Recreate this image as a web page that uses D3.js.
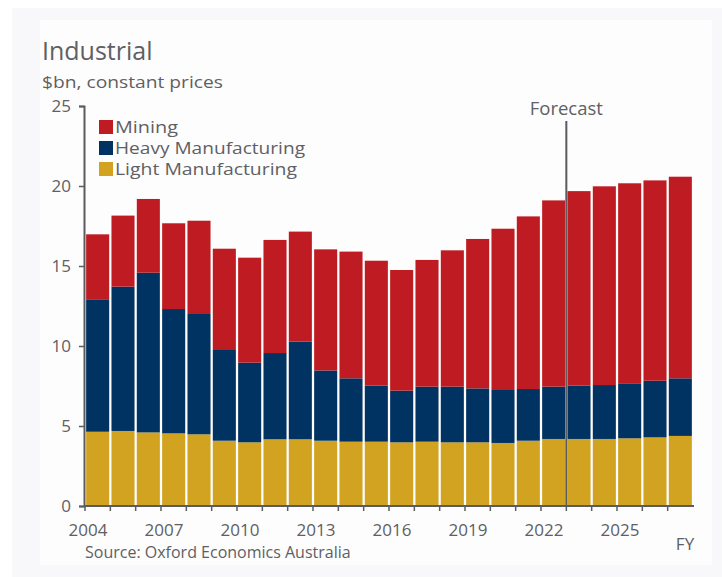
<html>

<head>
    <meta charset="UTF-8">
    <script src="https://d3js.org/d3.v7.min.js"></script>
    <style>
        body { margin: 0; background: #fff; }
        text { font-family: "Open Sans", "Noto Sans", sans-serif; fill: #5f6063; }
    </style>
</head>

<body>
</body>
<script>
    // data
    var years = d3.range(2004, 2028);
    var light = [4.64, 4.69, 4.60, 4.54, 4.48, 4.08, 3.98, 4.17, 4.17, 4.08, 4.02, 4.02,
        3.98, 4.02, 3.98, 3.98, 3.94, 4.08, 4.19, 4.19, 4.19, 4.23, 4.29, 4.38];
    var heavy = [8.28, 9.02, 9.98, 7.77, 7.52, 5.67, 4.98, 5.39, 6.10, 4.39, 3.96, 3.50,
        3.23, 3.44, 3.48, 3.37, 3.31, 3.23, 3.27, 3.33, 3.37, 3.44, 3.54, 3.60];
    var mining = [4.06, 4.44, 4.61, 5.36, 5.83, 6.33, 6.56, 7.07, 6.88, 7.57, 7.92, 7.81,
        7.54, 7.92, 8.52, 9.34, 10.08, 10.79, 11.64, 12.16, 12.42, 12.50, 12.52, 12.60];
    var seriesNames = ["Light Manufacturing", "Heavy Manufacturing", "Mining"];
    var yTicks = [0, 5, 10, 15, 20, 25];
    var xLabelYears = [2004, 2007, 2010, 2013, 2016, 2019, 2022, 2025];
    var forecastStart = 2023;

    var colors = { "Mining": "#be1b22", "Heavy Manufacturing": "#003262", "Light Manufacturing": "#d1a321" };

    var W = 722, H = 577;
    var margin = { top: 106, right: 29, bottom: 71, left: 84 },
        width = W - margin.left - margin.right,
        height = H - margin.top - margin.bottom;

    var svg = d3.select("body").append("svg")
        .attr("width", W).attr("height", H);

    // faint background
    svg.append("rect").attr("x", 12).attr("y", 8).attr("width", W - 12).attr("height", H - 8)
        .attr("fill", "#f8f8fa");
    svg.append("rect").attr("x", 40).attr("y", 20).attr("width", 672).attr("height", 545)
        .attr("fill", "#fdfdfd");

    var g = svg.append("g")
        .attr("transform", "translate(" + margin.left + "," + margin.top + ")");

    var table = years.map(function (y, i) {
        return { year: y, "Light Manufacturing": light[i], "Heavy Manufacturing": heavy[i], "Mining": mining[i] };
    });
    var stacked = d3.stack().keys(seriesNames)(table);

    var x = d3.scaleBand().domain(years).range([1, width]).paddingInner(0.09).paddingOuter(0.045);
    var y = d3.scaleLinear().domain([0, 25]).range([height, 0]);
    var step = x.step();
    var edge = function (yr) { return x(yr) - step * x.paddingInner() / 2; };

    // bars
    g.selectAll(".series")
        .data(stacked)
        .enter().append("g")
        .attr("fill", function (d) { return colors[d.key]; })
        .selectAll("rect")
        .data(function (d) { return d; })
        .enter().append("rect")
        .attr("x", function (d) { return x(d.data.year); })
        .attr("width", x.bandwidth())
        .attr("y", function (d) { return y(d[1]); })
        .attr("height", function (d) { return y(d[0]) - y(d[1]); });

    // y axis
    var yAxis = g.append("g")
        .call(d3.axisLeft(y).tickValues(yTicks).tickSize(5).tickPadding(8));
    yAxis.select(".domain").attr("stroke", "#5a5b5e").attr("stroke-width", 2);
    yAxis.selectAll(".tick line").attr("stroke", "#5a5b5e").attr("stroke-width", 1.5);
    yAxis.selectAll("text").style("font-size", "17px").attr("fill", "#5f6063");

    // x axis: ticks at category boundaries
    var boundaries = years.map(edge);
    var xa = g.append("g").attr("transform", "translate(0," + height + ")");
    xa.append("line").attr("x1", 0).attr("x2", width + 1)
        .attr("stroke", "#5a5b5e").attr("stroke-width", 2);
    xa.selectAll(".tk").data(boundaries).enter().append("line")
        .attr("x1", function (d) { return d; }).attr("x2", function (d) { return d; })
        .attr("y1", 0).attr("y2", 5)
        .attr("stroke", "#5a5b5e").attr("stroke-width", 1.5);
    xa.selectAll(".lbl").data(xLabelYears).enter().append("text")
        .attr("x", function (d) { return edge(d) + 3; })
        .attr("y", 30)
        .attr("text-anchor", "middle")
        .style("font-size", "17px")
        .text(function (d) { return d; });
    xa.append("text").attr("x", width - 8).attr("y", 44)
        .attr("text-anchor", "middle").style("font-size", "17px").text("FY");

    // forecast marker
    var fx = edge(forecastStart);
    g.append("line").attr("x1", fx).attr("x2", fx)
        .attr("y1", 15).attr("y2", height)
        .attr("stroke", "#5a5b5e").attr("stroke-width", 2);
    g.append("text").attr("x", fx).attr("y", 9)
        .attr("text-anchor", "middle").style("font-size", "18.5px").text("Forecast");

    // legend
    var legendOrder = ["Mining", "Heavy Manufacturing", "Light Manufacturing"];
    var legendWidths = [63, 190, 182];
    var lg = svg.selectAll(".legend").data(legendOrder).enter().append("g")
        .attr("transform", function (d, i) { return "translate(99," + (120 + 21 * i) + ")"; });
    lg.append("rect").attr("width", 14).attr("height", 14)
        .attr("fill", function (d) { return colors[d]; });
    lg.append("text").attr("x", 16).attr("y", 13)
        .style("font-size", "16px").attr("fill", "#55565a")
        .attr("textLength", function (d, i) { return legendWidths[i]; })
        .attr("lengthAdjust", "spacingAndGlyphs")
        .text(function (d) { return d; });

    // titles
    svg.append("text").attr("x", 42).attr("y", 60)
        .style("font-size", "25px").attr("fill", "#595a5d").text("Industrial");
    svg.append("text").attr("x", 42).attr("y", 88)
        .style("font-size", "17px")
        .attr("textLength", 181).attr("lengthAdjust", "spacingAndGlyphs")
        .text("$bn, constant prices");
    svg.append("text").attr("x", 85).attr("y", 558)
        .style("font-size", "16px").text("Source: Oxford Economics Australia");
</script>

</html>
